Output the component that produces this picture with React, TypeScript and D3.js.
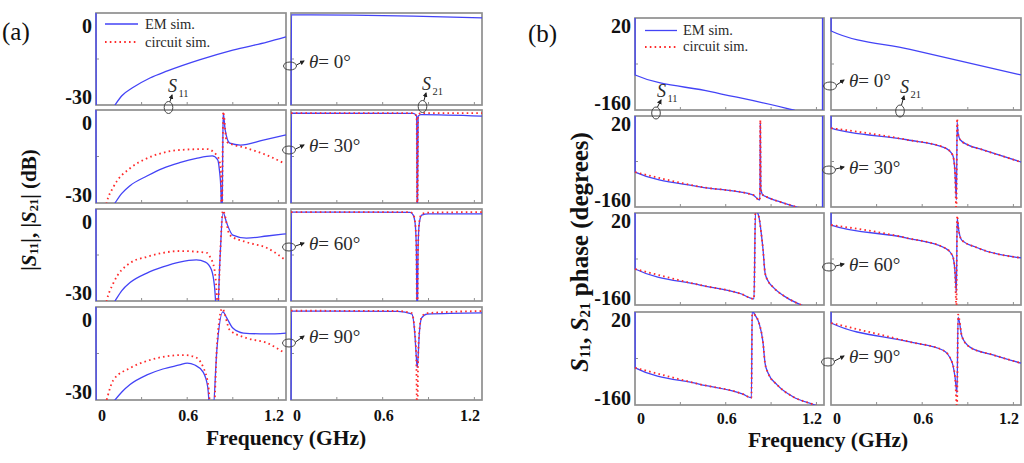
import React from 'react';
import * as d3 from 'd3';

type Pt = [number, number];

// ---------- axis / labels ----------
const freqDomain: [number, number] = [0, 1.25];
const magDomain: [number, number] = [-30, 0];
const phaseDomain: [number, number] = [-160, 20];
const freqTickValues = [0, 0.6, 1.2];
const freqTickLabels = ['0', '0.6', '1.2'];
const freqMinorTicks = [0.3, 0.6, 0.9, 1.2];
const magTickLabels = ['0', '-30'];
const phaseTickLabels = ['20', '-160'];
const thetaLabels = ['0°', '30°', '60°', '90°'];

// ---------- (a) magnitude, dB ----------
const magS11EM_0: Pt[] = [[0, 0], [0.002, -40], [0.125, -30], [0.17, -27], [0.24, -24.4], [0.355, -21.2], [0.47, -18.9], [0.68, -15.3], [0.9, -12.1], [1.125, -9.5], [1.25, -7.8]];
const magS21EM_0: Pt[] = [[0, -40], [0.003, -0.6], [0.4, -0.7], [0.8, -1.0], [1.25, -1.6]];

const magS11EM_30: Pt[] = [[0, 0], [0.002, -40], [0.125, -30], [0.17, -26.9], [0.224, -24.4], [0.335, -21.3], [0.44, -18.8], [0.55, -17], [0.66, -15.6], [0.765, -14.8], [0.8, -16], [0.812, -19.4], [0.822, -26], [0.828, -40], [0.834, -12], [0.837, -1], [0.85, -6.5], [0.88, -10.7], [0.95, -11.3], [1.1, -9.7], [1.25, -8]];
const magS11Cir_30: Pt[] = [[0.04, -38], [0.07, -30], [0.115, -24.8], [0.224, -18.8], [0.335, -15.6], [0.44, -13.8], [0.55, -12.9], [0.73, -12.6], [0.8, -15], [0.815, -17], [0.823, -22], [0.828, -40], [0.834, -10], [0.837, -0.5], [0.86, -10.3], [0.99, -12.3], [1.12, -14.5], [1.23, -17]];
const magS21EM_30: Pt[] = [[0, -40], [0.003, -1], [0.8, -1.1], [0.822, -2], [0.827, -40], [0.832, -2], [0.85, -1.5], [1.25, -2]];
const magS21Cir_30: Pt[] = [[0, -1], [0.8, -1], [0.822, -2], [0.827, -40], [0.832, -1.8], [0.85, -1], [1.25, -1]];

const magS11EM_60: Pt[] = [[0, 0], [0.002, -40], [0.125, -30], [0.17, -26.6], [0.224, -24], [0.335, -20.9], [0.44, -18.9], [0.55, -17.3], [0.66, -16.6], [0.72, -17.3], [0.76, -19.9], [0.78, -25.4], [0.797, -36], [0.816, -16], [0.835, -1], [0.86, -4.6], [0.9, -8.5], [0.99, -9.5], [1.125, -8.8], [1.25, -8.1]];
const magS11Cir_60: Pt[] = [[0.04, -38], [0.07, -30], [0.115, -24.1], [0.224, -17.6], [0.335, -15.6], [0.44, -14.3], [0.55, -13.7], [0.73, -14.3], [0.75, -15.6], [0.78, -19.9], [0.792, -26], [0.8, -34], [0.816, -16], [0.835, -0.5], [0.88, -8.5], [0.99, -10.8], [1.125, -12.7], [1.245, -16.6]];
const magS21EM_60: Pt[] = [[0, -40], [0.003, -1], [0.78, -1.1], [0.8, -2], [0.812, -4.5], [0.82, -12], [0.826, -40], [0.832, -12], [0.84, -4.5], [0.855, -2], [0.9, -1.6], [1.25, -1.6]];
const magS21Cir_60: Pt[] = [[0, -1], [0.78, -1], [0.8, -1.8], [0.812, -4.2], [0.82, -12], [0.826, -40], [0.832, -12], [0.84, -4], [0.855, -1.6], [0.9, -1.2], [1.25, -1]];

const magS11EM_90: Pt[] = [[0, 0], [0.002, -40], [0.125, -30], [0.17, -27.4], [0.224, -25], [0.335, -21.9], [0.44, -20], [0.55, -18.7], [0.6, -18.1], [0.65, -18.7], [0.705, -21], [0.735, -25.8], [0.75, -33], [0.77, -33], [0.795, -13.9], [0.835, -1.6], [0.86, -3.5], [0.9, -6.8], [0.97, -8.4], [1.125, -8.7], [1.25, -8.4]];
const magS11Cir_90: Pt[] = [[0.04, -36], [0.07, -30], [0.115, -23.5], [0.224, -19.7], [0.335, -17.4], [0.44, -16.1], [0.575, -15.5], [0.65, -16.1], [0.705, -19.4], [0.74, -25.8], [0.755, -34], [0.775, -34], [0.795, -13], [0.83, -0.5], [0.88, -7.4], [0.99, -10], [1.125, -11.6], [1.23, -14.5]];
const magS21EM_90: Pt[] = [[0, -40], [0.003, -1.3], [0.7, -1.4], [0.79, -2.2], [0.81, -8.4], [0.82, -16], [0.826, -19.5], [0.832, -16], [0.84, -8.4], [0.855, -3.5], [0.89, -2.3], [1.25, -1.9]];
const magS21Cir_90: Pt[] = [[0, -1.2], [0.7, -1.3], [0.79, -2], [0.81, -8], [0.82, -17], [0.826, -40], [0.832, -17], [0.84, -8], [0.855, -3.2], [0.89, -2], [1.25, -1.3]];

// ---------- (b) phase, degrees ----------
const phS11EM_0: Pt[] = [[0, 180], [0.001, -91.5], [0.5, -124], [1.045, -160], [1.24, -176], [1.2405, 184], [1.25, 183]];
const phS21EM_0: Pt[] = [[0, 180], [0.001, -5.4], [0.52, -41.5], [1.25, -91.5]];

const phS11EM_30: Pt[] = [[0, 180], [0.001, -91], [0.43, -120], [0.78, -136], [0.815, -145], [0.826, -146], [0.829, 6], [0.832, -123], [0.845, -136], [0.87, -140], [0.96, -150], [1.07, -160], [1.24, -178], [1.2405, 182], [1.25, 181]];
const phS11Cir_30: Pt[] = [[0.001, -91], [0.43, -120], [0.78, -136], [0.815, -145], [0.826, -146], [0.829, 12], [0.832, -123], [0.845, -136], [0.87, -140], [0.96, -150], [1.07, -160], [1.24, -178]];
const phS21EM_30: Pt[] = [[0, 180], [0.001, -4], [0.5, -27], [0.75, -43], [0.8, -57], [0.815, -87], [0.825, -146], [0.83, 8], [0.835, -12], [0.85, -27], [0.9, -37], [1.0, -47], [1.25, -71]];
const phS21Cir_30: Pt[] = [[0.001, -4], [0.5, -27], [0.75, -43], [0.8, -57], [0.815, -87], [0.825, -170], [0.83, 15], [0.835, -12], [0.85, -27], [0.9, -37], [1.0, -47], [1.25, -71]];

const phS11EM_60: Pt[] = [[0, 180], [0.001, -89.6], [0.43, -121], [0.7, -138], [0.787, -148], [0.797, 25], [0.82, 12], [0.835, -20], [0.847, -52], [0.86, -97], [0.88, -113], [0.913, -125], [1.005, -146], [1.1, -160], [1.25, -175]];
const phS11Cir_60: Pt[] = [[0.001, -89.6], [0.43, -121], [0.7, -138], [0.787, -148], [0.797, 28], [0.82, 12], [0.835, -20], [0.847, -52], [0.86, -97], [0.88, -113], [0.913, -125], [1.005, -146], [1.1, -160], [1.25, -175]];
const phS21EM_60: Pt[] = [[0, 180], [0.001, -3.5], [0.5, -29], [0.75, -48.5], [0.8, -64], [0.815, -91.5], [0.825, -135], [0.83, 10], [0.84, -13], [0.86, -33], [0.95, -46.5], [1.25, -68]];
const phS21Cir_60: Pt[] = [[0.001, -3.5], [0.5, -29], [0.75, -48.5], [0.8, -64], [0.815, -91.5], [0.825, -165], [0.83, 15], [0.84, -13], [0.86, -33], [0.95, -46.5], [1.25, -68]];

const phS11EM_90: Pt[] = [[0, 180], [0.001, -88], [0.43, -120], [0.714, -139], [0.77, -146], [0.775, 22], [0.794, 14], [0.82, -1], [0.847, -40], [0.86, -79], [0.88, -98], [0.94, -121], [1.045, -144], [1.19, -160], [1.25, -167]];
const phS11Cir_90: Pt[] = [[0.001, -88], [0.43, -120], [0.714, -139], [0.77, -146], [0.775, 22], [0.794, 14], [0.82, -1], [0.847, -40], [0.86, -79], [0.88, -98], [0.94, -121], [1.045, -144], [1.19, -160], [1.25, -167]];
const phS21EM_90: Pt[] = [[0, 180], [0.001, -1.3], [0.52, -38], [0.737, -54], [0.796, -77], [0.816, -106], [0.829, -137], [0.836, 10], [0.862, -28], [0.914, -48], [1.066, -63], [1.25, -79]];
const phS21Cir_90: Pt[] = [[0.001, -1.3], [0.52, -38], [0.737, -54], [0.796, -77], [0.816, -106], [0.829, -165], [0.836, 15], [0.862, -28], [0.914, -48], [1.066, -63], [1.25, -79]];

const magEM: Pt[][][] = [[magS11EM_0, magS21EM_0], [magS11EM_30, magS21EM_30], [magS11EM_60, magS21EM_60], [magS11EM_90, magS21EM_90]];
const magCir: (Pt[] | null)[][] = [[null, null], [magS11Cir_30, magS21Cir_30], [magS11Cir_60, magS21Cir_60], [magS11Cir_90, magS21Cir_90]];
const phEM: Pt[][][] = [[phS11EM_0, phS21EM_0], [phS11EM_30, phS21EM_30], [phS11EM_60, phS21EM_60], [phS11EM_90, phS21EM_90]];
const phCir: (Pt[] | null)[][] = [[null, null], [phS11Cir_30, phS21Cir_30], [phS11Cir_60, phS21Cir_60], [phS11Cir_90, phS21Cir_90]];

// ---------- layout ----------
const BLUE = '#4343f6';
const RED = '#ff2a2a';
const FRAME = '#8f8f8f';
const INK = '#2a2a2a';
const FONT = "'Liberation Serif','Times New Roman',serif";

const aCols = [{ x: 96, w: 190 }, { x: 291, w: 191 }];
const aRows = [{ y: 13, h: 92 }, { y: 110, h: 93 }, { y: 209, h: 92 }, { y: 307, h: 93 }];
const bCols = [{ x: 635, w: 189 }, { x: 831, w: 190 }];
const bRows = [{ y: 18, h: 92 }, { y: 116, h: 91 }, { y: 213, h: 92 }, { y: 312, h: 93 }];

type SubProps = {
  id: string; x: number; y: number; w: number; h: number;
  yDomain: [number, number]; em: Pt[]; cir: Pt[] | null;
  yLabels: string[] | null; yLabelX: number; yTopBase: number; yBotBase: number;
  showX: boolean; xLabelBase: number;
};

function Subplot(p: SubProps) {
  const xs = d3.scaleLinear().domain(freqDomain).range([p.x, p.x + p.w]);
  const ys = d3.scaleLinear().domain(p.yDomain).range([p.y + p.h, p.y]);
  const line = d3.line<Pt>().x(d => xs(d[0])).y(d => ys(d[1])).curve(d3.curveMonotoneX);
  const midY = ys((p.yDomain[0] + p.yDomain[1]) / 2);
  return (
    <g>
      <defs>
        <clipPath id={p.id}>
          <rect x={p.x - 1} y={p.y} width={p.w + 2} height={p.h} />
        </clipPath>
      </defs>
      <rect x={p.x} y={p.y} width={p.w} height={p.h} fill="none" stroke={FRAME} strokeWidth={1.7} />
      {freqMinorTicks.map(t => (
        <line key={'t' + t} x1={xs(t)} x2={xs(t)} y1={p.y + p.h} y2={p.y + p.h - 3} stroke={FRAME} strokeWidth={1} />
      ))}
      <line x1={p.x} x2={p.x + 3} y1={midY} y2={midY} stroke={FRAME} strokeWidth={1} />
      <g clipPath={`url(#${p.id})`}>
        <path d={line(p.em) || ''} fill="none" stroke={BLUE} strokeWidth={1.3} />
        {p.cir && (
          <path d={line(p.cir) || ''} fill="none" stroke={RED} strokeWidth={1.8} strokeDasharray="1.6 3.2" />
        )}
      </g>
      {p.yLabels && (
        <g fontWeight="bold" fontSize={20} textAnchor="end" fill="#111">
          <text x={p.yLabelX} y={p.y + p.yTopBase}>{p.yLabels[0]}</text>
          <text x={p.yLabelX} y={p.y + p.h + p.yBotBase}>{p.yLabels[1]}</text>
        </g>
      )}
      {p.showX && (
        <g fontWeight="bold" fontSize={16} fill="#111">
          {freqTickValues.map((v, i) => (
            <text key={v} x={i === 0 ? p.x + 2 : i === 2 ? p.x + p.w - 2 : xs(v) + 1}
              y={p.y + p.h + p.xLabelBase}
              textAnchor={i === 0 ? 'start' : i === 2 ? 'end' : 'middle'}>{freqTickLabels[i]}</text>
          ))}
        </g>
      )}
    </g>
  );
}

function Theta({ ex, ey, tx, ty, label }: { ex: number; ey: number; tx: number; ty: number; label: string }) {
  return (
    <g>
      <ellipse cx={ex} cy={ey} rx={6.5} ry={4} fill="none" stroke="#444" strokeWidth={1} />
      <line x1={ex + 6.5} y1={ey - 1} x2={tx - 5} y2={ty - 7} stroke="#222" strokeWidth={1} markerEnd="url(#ah)" />
      <text x={tx} y={ty} fontSize={19} fill={INK}>
        <tspan fontStyle="italic">θ</tspan>
        <tspan>{'= ' + label}</tspan>
      </text>
    </g>
  );
}

function SLabel({ ex, ey, sx, sy, sub }: { ex: number; ey: number; sx: number; sy: number; sub: string }) {
  return (
    <g>
      <ellipse cx={ex} cy={ey} rx={4.3} ry={6} fill="none" stroke="#444" strokeWidth={1} />
      <line x1={ex + 1.5} y1={ey - 6} x2={sx + 4} y2={sy + 3} stroke="#222" strokeWidth={1} markerEnd="url(#ah)" />
      <text x={sx} y={sy} fontSize={18} fill={INK}>
        <tspan fontStyle="italic">S</tspan>
        <tspan fontSize={10.5} dx={1.5} dy={5}>{sub}</tspan>
      </text>
    </g>
  );
}

export default function App() {
  const subs: JSX.Element[] = [];
  aRows.forEach((r, ri) => {
    aCols.forEach((c, ci) => {
      subs.push(
        <Subplot key={`a${ri}${ci}`} id={`ca${ri}${ci}`} x={c.x} y={r.y} w={c.w} h={r.h}
          yDomain={magDomain} em={magEM[ri][ci]} cir={magCir[ri][ci]}
          yLabels={ci === 0 ? magTickLabels : null} yLabelX={92} yTopBase={20} yBotBase={-1}
          showX={ri === 3} xLabelBase={21} />
      );
    });
  });
  bRows.forEach((r, ri) => {
    bCols.forEach((c, ci) => {
      subs.push(
        <Subplot key={`b${ri}${ci}`} id={`cb${ri}${ci}`} x={c.x} y={r.y} w={c.w} h={r.h}
          yDomain={phaseDomain} em={phEM[ri][ci]} cir={phCir[ri][ci]}
          yLabels={ci === 0 ? phaseTickLabels : null} yLabelX={631} yTopBase={15} yBotBase={0}
          showX={ri === 3} xLabelBase={19} />
      );
    });
  });

  const aTheta = [
    { ex: 290, ey: 66, ty: 68 }, { ex: 289, ey: 150, ty: 152 }, { ex: 289, ey: 247, ty: 250 }, { ex: 289, ey: 343, ty: 343 },
  ];
  const bTheta = [
    { ex: 830, ey: 86, ty: 87 }, { ex: 829, ey: 170, ty: 174 }, { ex: 829, ey: 267, ty: 271 }, { ex: 828, ey: 362, ty: 363 },
  ];

  return (
    <svg width={1024} height={463} style={{ position: 'absolute', left: 0, top: 0, background: '#fff' }} fontFamily={FONT}>
      <defs>
        <marker id="ah" markerWidth={5} markerHeight={5} refX={4} refY={2.5} orient="auto" markerUnits="userSpaceOnUse">
          <path d="M0,0 L5,2.5 L0,5 z" fill="#222" />
        </marker>
      </defs>
      <rect x={0} y={0} width={1024} height={463} fill="#fff" />
      {subs}

      {/* panel labels */}
      <text x={2} y={40} fontSize={25} fill="#111">(a)</text>
      <text x={528} y={42} fontSize={25} fill="#111">(b)</text>

      {/* legends */}
      <line x1={105} x2={138} y1={24} y2={24} stroke={BLUE} strokeWidth={1.3} />
      <text x={145} y={28.5} fontSize={14.5} fill={INK}>EM sim.</text>
      <line x1={105} x2={138} y1={42} y2={42} stroke={RED} strokeWidth={1.8} strokeDasharray="1.6 3.2" />
      <text x={145} y={46.5} fontSize={14.5} fill={INK}>circuit sim.</text>
      <line x1={645} x2={677} y1={30.5} y2={30.5} stroke={BLUE} strokeWidth={1.3} />
      <text x={683} y={35} fontSize={14.5} fill={INK}>EM sim.</text>
      <line x1={645} x2={677} y1={47} y2={47} stroke={RED} strokeWidth={1.8} strokeDasharray="1.6 3.2" />
      <text x={683} y={51} fontSize={14.5} fill={INK}>circuit sim.</text>

      {/* theta annotations */}
      {aTheta.map((t, i) => <Theta key={'ta' + i} ex={t.ex} ey={t.ey} tx={309} ty={t.ty} label={thetaLabels[i]} />)}
      {bTheta.map((t, i) => <Theta key={'tb' + i} ex={t.ex} ey={t.ey} tx={849} ty={t.ty} label={thetaLabels[i]} />)}

      {/* S labels */}
      <SLabel ex={168.5} ey={107.5} sx={168} sy={92} sub="11" />
      <SLabel ex={422.5} ey={106.5} sx={422} sy={90} sub="21" />
      <SLabel ex={656} ey={113} sx={657} sy={97} sub="11" />
      <SLabel ex={900} ey={111} sx={900} sy={93} sub="21" />

      {/* axis titles */}
      <text x={286} y={445} fontSize={21.5} fontWeight="bold" textAnchor="middle" fill="#111">Frequency (GHz)</text>
      <text x={828} y={447} fontSize={21.5} fontWeight="bold" textAnchor="middle" fill="#111">Frequency (GHz)</text>

      <text transform="translate(29,210) rotate(-90)" fontSize={21} fontWeight="bold" textAnchor="middle" dominantBaseline="central" fill="#111">
        |<tspan fontStyle="italic">S</tspan><tspan fontSize={12.5} dy={5}>11</tspan><tspan dy={-5}>|, |</tspan><tspan fontStyle="italic">S</tspan><tspan fontSize={12.5} dy={5}>21</tspan><tspan dy={-5}>| (dB)</tspan>
      </text>
      <text transform="translate(579,252) rotate(-90)" fontSize={25} fontWeight="bold" textAnchor="middle" dominantBaseline="central" fill="#111">
        <tspan fontStyle="italic">S</tspan><tspan fontSize={15} dy={6}>11</tspan><tspan dy={-6}>, </tspan><tspan fontStyle="italic">S</tspan><tspan fontSize={15} dy={6}>21</tspan><tspan dy={-6}> phase (degrees)</tspan>
      </text>
    </svg>
  );
}
